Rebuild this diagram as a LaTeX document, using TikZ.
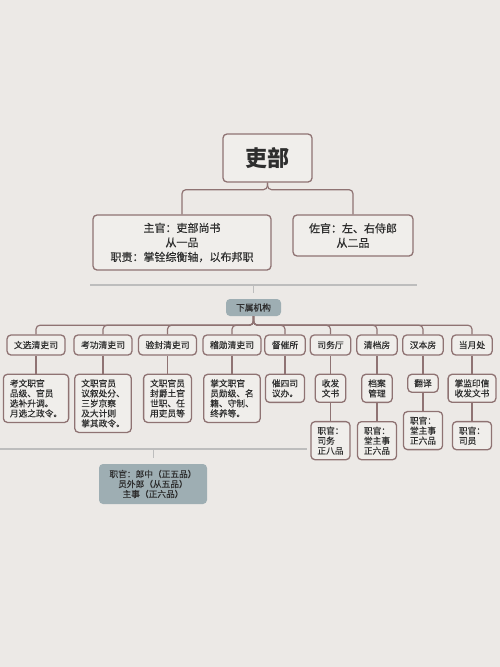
\documentclass[tikz,border=0pt]{standalone}
\usepackage{fontspec}
\setmainfont{Noto Sans CJK SC}
\newfontfamily\medfont{Noto Sans CJK SC}[FakeBold=0.6]
\newfontfamily\lightmed{Noto Sans CJK SC}[FakeBold=0.3]
\usetikzlibrary{positioning}
\definecolor{bgcol}{HTML}{ECE9E6}
\definecolor{boxcol}{HTML}{F0EEEB}
\definecolor{linecol}{HTML}{8F7373}
\definecolor{tagcol}{HTML}{9EAEB3}
\definecolor{sepcol}{HTML}{BDBDBD}
\definecolor{txtcol}{HTML}{2E2E2E}

\begin{document}
\begin{tikzpicture}[x=1pt,y=-1pt,node distance=18pt,
    box/.style={draw=linecol,line width=1.3pt,fill=boxcol,rounded corners=4pt,text=txtcol,inner sep=0pt},
    head/.style={box,font=\medfont\fontsize{11}{14.5}\selectfont,align=center},
    dept/.style={box,font=\lightmed\fontsize{8.8}{10}\selectfont,minimum height=20pt,inner xsep=7pt},
    duty/.style={box,font=\lightmed\fontsize{8.7}{10}\selectfont,align=left,inner xsep=6.5pt,inner ysep=5pt},
    tag/.style={fill=tagcol,rounded corners=4pt,text=txtcol,inner sep=0pt,font=\lightmed\fontsize{8.7}{10}\selectfont,align=center},
    link/.style={draw=linecol,line width=1.2pt,rounded corners=4pt},
    sep/.style={draw=sepcol,line width=2pt}] %
    \path[use as bounding box,fill=bgcol] (0,0) rectangle (500,667); %
    % top
    \node[box,minimum width=89pt,minimum height=48pt,font=\fontsize{22}{22}\selectfont\bfseries] (jibu) at (267.5,158) {吏部}; %
    \node[head,minimum width=178pt,minimum height=55pt] (zhuguan) at (182,242.5) {主官：吏部尚书\\从一品\\职责：掌铨综衡轴，以布邦职}; %
    \node[head,minimum width=120pt,minimum height=41pt] (zuoguan) at (353,235.5) {佐官：左、右侍郎\\从二品}; %
    \draw[link] (jibu.south) -- ++(0,7) -| (zhuguan.north);
    \draw[link] (jibu.south) -- ++(0,7) -| (zuoguan.north);
    % sub offices
    \coordinate (sepa) at (90,285);
    \coordinate (sepb) at (417,285);
    \coordinate (ticka) at (253.5,285);
    \draw[sep] (sepa) -- (sepb);
    \draw[sepcol,line width=0.8pt] (ticka) -- ++(0,8);
    \node[tag,minimum width=55pt,minimum height=17pt] (xiashu) at (253.5,307.5) {下属机构}; %
    \node[dept] (wenxuan) at (36,345) {文选清吏司}; %
    \node[dept] (kaogong) at (103,345) {考功清吏司}; %
    \node[dept] (yanfeng) at (167.5,345) {验封清吏司}; %
    \node[dept] (jixun) at (232,345) {稽勋清吏司}; %
    \node[dept] (duchui) at (285,345) {督催所}; %
    \node[dept] (siwu) at (330.5,345) {司务厅}; %
    \node[dept] (qingdang) at (377,345) {清档房}; %
    \node[dept] (hanben) at (423,345) {汉本房}; %
    \node[dept] (dangyue) at (472,345) {当月处}; %
    \draw[link] (xiashu.south) -- ++(0,9) -| (wenxuan.north);
    \draw[link] (xiashu.south) -- ++(0,9) -| (kaogong.north);
    \draw[link] (xiashu.south) -- ++(0,9) -| (yanfeng.north);
    \draw[link] (xiashu.south) -- ++(0,9) -| (jixun.north);
    \draw[link] (xiashu.south) -- ++(0,9) -| (duchui.north);
    \draw[link] (xiashu.south) -- ++(0,9) -| (siwu.north);
    \draw[link] (xiashu.south) -- ++(0,9) -| (qingdang.north);
    \draw[link] (xiashu.south) -- ++(0,9) -| (hanben.north);
    \draw[link] (xiashu.south) -- ++(0,9) -| (dangyue.north);
    % duties
    \node[duty,below=of wenxuan] (wenxuan-d) {考文职官\\品级、官员\\选补升调。\\月选之政令。}; %
    \node[duty,below=of kaogong] (kaogong-d) {文职官员\\议叙处分、\\三岁京察\\及大计则\\掌其政令。}; %
    \node[duty,below=of yanfeng] (yanfeng-d) {文职官员\\封爵土官\\世职、任\\用吏员等}; %
    \node[duty,below=of jixun] (jixun-d) {掌文职官\\员勋级、名\\籍、守制、\\终养等。}; %
    \node[duty,below=of duchui] (duchui-d) {催四司\\议办。}; %
    \node[duty,below=of siwu] (siwu-d) {收发\\文书}; %
    \node[duty,below=of qingdang] (qingdang-d) {档案\\管理}; %
    \node[duty,below=of hanben] (hanben-d) {翻译}; %
    \node[duty,below=of dangyue] (dangyue-d) {掌监印信\\收发文书}; %
    \draw[link] (wenxuan) -- (wenxuan-d);
    \draw[link] (kaogong) -- (kaogong-d);
    \draw[link] (yanfeng) -- (yanfeng-d);
    \draw[link] (jixun) -- (jixun-d);
    \draw[link] (duchui) -- (duchui-d);
    \draw[link] (siwu) -- (siwu-d);
    \draw[link] (qingdang) -- (qingdang-d);
    \draw[link] (hanben) -- (hanben-d);
    \draw[link] (dangyue) -- (dangyue-d);
    % officials
    \node[duty,below=of siwu-d] (siwu-z) {职官：\\司务\\正八品}; %
    \node[duty,below=of qingdang-d] (qingdang-z) {职官：\\堂主事\\正六品}; %
    \node[duty,below=of hanben-d] (hanben-z) {职官：\\堂主事\\正六品}; %
    \node[duty,below=of dangyue-d] (dangyue-z) {职官：\\司员}; %
    \draw[link] (siwu-d) -- (siwu-z);
    \draw[link] (qingdang-d) -- (qingdang-z);
    \draw[link] (hanben-d) -- (hanben-z);
    \draw[link] (dangyue-d) -- (dangyue-z);
    % ranks
    \coordinate (sepc) at (0,449);
    \coordinate (sepd) at (307,449);
    \coordinate (tickb) at (153,449);
    \draw[sep] (sepc) -- (sepd);
    \draw[sepcol,line width=0.8pt] (tickb) -- ++(0,9);
    \node[tag,minimum width=108pt,minimum height=40pt] (zhiguan) at (153,484) {职官：郎中（正五品）\\员外郎（从五品）\\主事（正六品）}; %
\end{tikzpicture}
\end{document}
